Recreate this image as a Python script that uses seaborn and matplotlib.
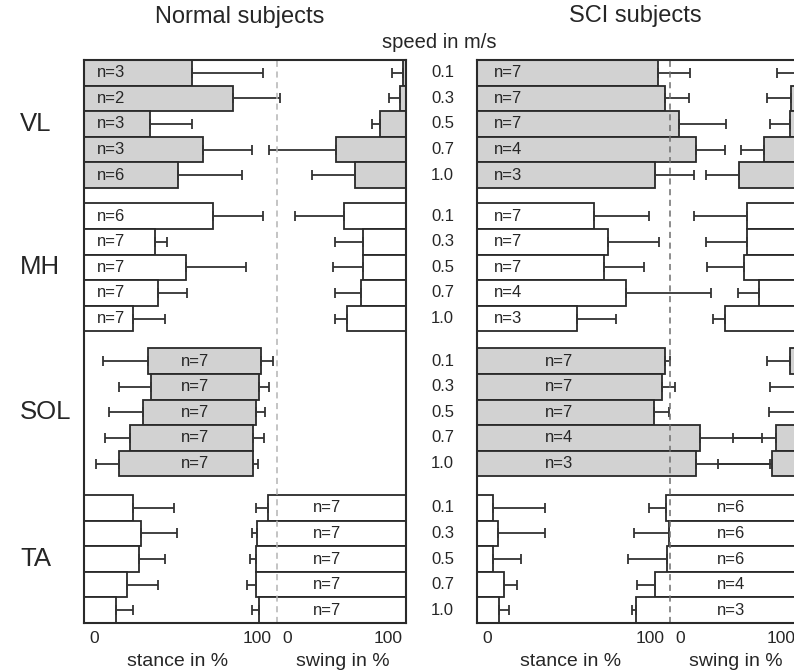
import matplotlib
matplotlib.use("Agg")
import matplotlib.pyplot as plt
import seaborn as sns

# ------------------------------------------------------------------ data
speeds = ["0.1", "0.3", "0.5", "0.7", "1.0"]
muscles = ["VL", "MH", "SOL", "TA"]

# Normal subjects (stance values in % of stance, swing values in % of swing)
nor_vl_n = [3, 2, 3, 3, 6]
nor_vl_stance_off = [55.8, 77.0, 34.2, 61.5, 48.4]
nor_vl_stance_off_sd = [36.8, 24.5, 21.9, 25.7, 33.3]
nor_vl_swing_on = [97.9, 95.6, 79.8, 45.7, 60.7]
nor_vl_swing_on_sd = [9.0, 9.0, 5.9, 52.4, 33.8]

nor_mh_n = [6, 7, 7, 7, 7]
nor_mh_stance_off = [67.0, 37.0, 52.8, 38.5, 25.6]
nor_mh_stance_off_sd = [25.6, 6.2, 31.1, 14.7, 16.4]
nor_mh_swing_on = [52.2, 66.9, 66.4, 64.9, 54.5]
nor_mh_swing_on_sd = [38.2, 21.9, 22.7, 19.9, 9.5]

nor_sol_n = [7, 7, 7, 7, 7]
nor_sol_stance_on = [33.0, 34.5, 30.7, 23.8, 18.3]
nor_sol_stance_on_sd = [23.0, 16.2, 17.6, 12.9, 12.1]
nor_sol_stance_off = [91.5, 90.8, 88.9, 87.4, 87.7]
nor_sol_stance_off_sd = [6.2, 4.7, 4.9, 6.0, 2.6]

nor_ta_n = [7, 7, 7, 7, 7]
nor_ta_stance_off = [25.6, 29.5, 28.7, 22.5, 16.6]
nor_ta_stance_off_sd = [21.0, 18.5, 13.3, 16.0, 8.6]
nor_ta_swing_on = [-7.5, -15.3, -16.3, -16.3, -14.0]
nor_ta_swing_on_sd = [8.8, 4.3, 4.6, 7.2, 5.6]

# SCI subjects
sci_vl_n = [7, 7, 7, 4, 3]
sci_vl_stance_off = [93.9, 97.4, 104.5, 113.1, 91.9]
sci_vl_stance_off_sd = [16.1, 12.1, 24.6, 15.1, 20.2]
sci_vl_swing_on = [98.5, 93.5, 93.0, 72.9, 53.7]
sci_vl_swing_on_sd = [15.8, 18.6, 15.5, 18.1, 26.0]

sci_mh_n = [7, 7, 7, 4, 3]
sci_mh_stance_off = [60.6, 68.0, 65.8, 77.0, 52.0]
sci_mh_stance_off_sd = [28.2, 26.3, 20.7, 44.3, 20.0]
sci_mh_swing_on = [59.9, 59.9, 57.4, 68.7, 42.9]
sci_mh_swing_on_sd = [41.3, 32.2, 28.5, 15.8, 9.3]

sci_sol_n = [7, 7, 7, 4, 3]
sci_sol_stance_off = [97.1, 96.0, 91.7, 115.2, 113.3]
sci_sol_stance_off_sd = [2.9, 6.6, 7.9, 32.3, 38.2]
sci_sol_swing_on = [93.0, 98.5, 98.5, 82.2, 78.8]
sci_sol_swing_on_sd = [18.1, 21.0, 21.5, 33.1, 41.4]

sci_ta_n = [6, 6, 6, 4, 3]
sci_ta_stance_off = [8.5, 10.7, 8.1, 14.1, 11.6]
sci_ta_stance_off_sd = [26.9, 24.4, 14.7, 6.5, 5.1]
sci_ta_swing_on = [-3.4, -1.3, -2.1, -11.6, -26.4]
sci_ta_swing_on_sd = [13.4, 27.1, 31.0, 14.2, 3.3]

# ------------------------------------------------------------------ style
sns.set_theme(style="white")
plt.rcParams["font.family"] = ["Liberation Sans", "DejaVu Sans"]

GRAY = "#d2d2d2"
WHITE = "#ffffff"
EDGE = "#2a2a2a"
TXT = "#262626"
STANCE_W = 60.0   # share of the panel width for stance
SWING_W = 40.0


def sx(v):
    return v * STANCE_W / 100.0


def wx(v):
    return STANCE_W + v * SWING_W / 100.0


W, H = 794, 670
fig = plt.figure(figsize=(W / 100, H / 100), dpi=100)


def add_ax(x0, x1, y0, y1):
    return fig.add_axes([x0 / W, 1 - y1 / H, (x1 - x0) / W, (y1 - y0) / H])


ax_n = add_ax(84, 406, 60, 623)
ax_s = add_ax(477, 799, 60, 623)

# vertical layout (pixels inside the panel)
group_top = [0.0, 143.3, 288.3, 435.0]
row_h = 25.6
PANEL_H = 563.0


def row_y(g, i):
    return group_top[g] + (i + 0.5) * row_h


ebkw = dict(fmt="none", ecolor="#333333", elinewidth=1.3, capsize=3.4,
            capthick=1.3, zorder=3)
barkw = dict(height=row_h, edgecolor=EDGE, linewidth=1.3, zorder=2)


def draw_muscle(ax, g, fill, n, st_off, st_off_sd, st_on=None, st_on_sd=None,
                sw_on=None, sw_on_sd=None, label="left", lab_x=4.0):
    for i in range(len(speeds)):
        y = row_y(g, i)
        a = sx(st_on[i]) if st_on is not None else 0.0
        b = sx(st_off[i])
        ax.barh(y, b - a, left=a, color=fill, **barkw)
        ax.errorbar(b, y, xerr=[[0], [sx(st_off_sd[i])]], **ebkw)
        if st_on is not None:
            ax.errorbar(a, y, xerr=[[sx(st_on_sd[i])], [0]], **ebkw)
        if sw_on is not None:
            c = wx(sw_on[i])
            ax.barh(y, 100 - c, left=c, color=fill, **barkw)
            ax.errorbar(c, y, xerr=[[sw_on_sd[i] * SWING_W / 100.0], [0]], **ebkw)
        ha = "left" if label == "left" else "center"
        ax.text(lab_x, y, f"n={n[i]}", ha=ha, va="center", fontsize=12,
                color=TXT, zorder=5)


# Normal subjects
draw_muscle(ax_n, 0, GRAY, nor_vl_n, nor_vl_stance_off, nor_vl_stance_off_sd,
            sw_on=nor_vl_swing_on, sw_on_sd=nor_vl_swing_on_sd, lab_x=4.0)
draw_muscle(ax_n, 1, WHITE, nor_mh_n, nor_mh_stance_off, nor_mh_stance_off_sd,
            sw_on=nor_mh_swing_on, sw_on_sd=nor_mh_swing_on_sd, lab_x=4.0)
draw_muscle(ax_n, 2, GRAY, nor_sol_n, nor_sol_stance_off, nor_sol_stance_off_sd,
            st_on=nor_sol_stance_on, st_on_sd=nor_sol_stance_on_sd,
            label="center", lab_x=34.6)
draw_muscle(ax_n, 3, WHITE, nor_ta_n, nor_ta_stance_off, nor_ta_stance_off_sd,
            sw_on=nor_ta_swing_on, sw_on_sd=nor_ta_swing_on_sd,
            label="center", lab_x=75.5)

# SCI subjects
draw_muscle(ax_s, 0, GRAY, sci_vl_n, sci_vl_stance_off, sci_vl_stance_off_sd,
            sw_on=sci_vl_swing_on, sw_on_sd=sci_vl_swing_on_sd, lab_x=5.3)
draw_muscle(ax_s, 1, WHITE, sci_mh_n, sci_mh_stance_off, sci_mh_stance_off_sd,
            sw_on=sci_mh_swing_on, sw_on_sd=sci_mh_swing_on_sd, lab_x=5.3)
draw_muscle(ax_s, 2, GRAY, sci_sol_n, sci_sol_stance_off, sci_sol_stance_off_sd,
            sw_on=sci_sol_swing_on, sw_on_sd=sci_sol_swing_on_sd,
            label="center", lab_x=25.4)
draw_muscle(ax_s, 3, WHITE, sci_ta_n, sci_ta_stance_off, sci_ta_stance_off_sd,
            sw_on=sci_ta_swing_on, sw_on_sd=sci_ta_swing_on_sd,
            label="center", lab_x=78.8)

for ax, dcol in ((ax_n, "#b4b4b4"), (ax_s, "#6e6e6e")):
    ax.set_xlim(0, 100)
    ax.set_ylim(PANEL_H, 0)
    ax.set_xticks([])
    ax.set_yticks([])
    ax.axvline(STANCE_W, color=dcol, linestyle=(0, (4, 3)), linewidth=1.1,
               zorder=4)
    for sp in ax.spines.values():
        sp.set_color(EDGE)
        sp.set_linewidth(1.5)
        sp.set_zorder(6)
    tr = ax.get_xaxis_transform()
    yt = -(643 - 623) / PANEL_H
    ya = -(666 - 623) / PANEL_H
    ax.text(1.7, yt, "0", ha="left", va="baseline", fontsize=12.5,
            color=TXT, transform=tr)
    ax.text(58.2, yt, "100", ha="right", va="baseline", fontsize=12.5,
            color=TXT, transform=tr)
    ax.text(61.5, yt, "0", ha="left", va="baseline", fontsize=12.5,
            color=TXT, transform=tr)
    ax.text(98.8, yt, "100", ha="right", va="baseline", fontsize=12.5,
            color=TXT, transform=tr)
    ax.text(29.0, ya, "stance in %", ha="center", va="baseline",
            fontsize=14, color=TXT, transform=tr)
    ax.text(80.4, ya, "swing in %", ha="center", va="baseline",
            fontsize=14, color=TXT, transform=tr)

# muscle names and speeds
ytr = ax_n.get_yaxis_transform()
for g, m in enumerate(muscles):
    ax_n.text((20 - 84) / 322, row_y(g, 2), m, ha="left", va="center",
              fontsize=18.5, color=TXT, transform=ytr, clip_on=False)
    for i, s in enumerate(speeds):
        ax_n.text((442.5 - 84) / 322, row_y(g, i), s, ha="center",
                  va="center", fontsize=12, color=TXT, transform=ytr,
                  clip_on=False)

fig.text(240 / W, 1 - 17 / H, "Normal subjects", ha="center", va="center",
         fontsize=17, color=TXT)
fig.text(635 / W, 1 - 16 / H, "SCI subjects", ha="center", va="center",
         fontsize=17, color=TXT)
fig.text(439 / W, 1 - 42 / H, "speed in m/s", ha="center", va="center",
         fontsize=14.5, color=TXT)

fig.savefig("out.png", dpi=100)
